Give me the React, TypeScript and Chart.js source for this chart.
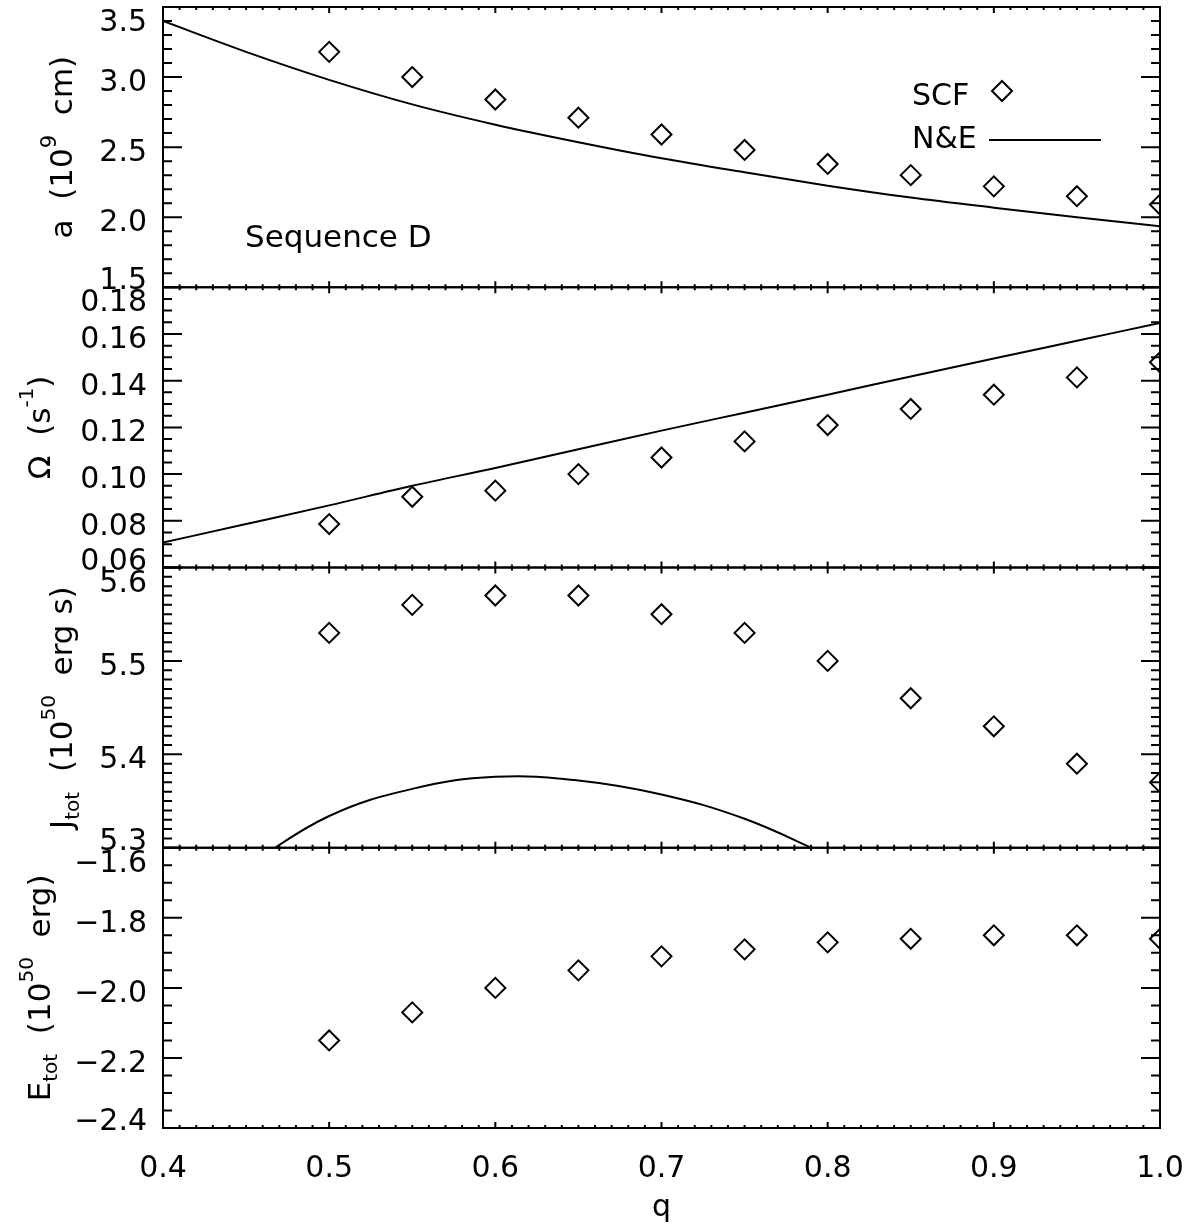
import React, { useEffect, useRef } from 'react';
import { Chart, registerables } from 'chart.js';

Chart.register(...registerables);

// ---------- data ----------
const qSCF = [0.5, 0.55, 0.6, 0.65, 0.7, 0.75, 0.8, 0.85, 0.9, 0.95, 1.0];
const aSCF = [3.18, 3.0, 2.84, 2.71, 2.59, 2.48, 2.38, 2.3, 2.22, 2.15, 2.09];
const omegaSCF = [0.0786, 0.0903, 0.0929, 0.1, 0.1071, 0.114, 0.121, 0.1279, 0.134, 0.1414, 0.1479];
const jSCF = [5.53, 5.56, 5.57, 5.57, 5.55, 5.53, 5.5, 5.46, 5.43, 5.39, 5.37];
const eSCF = [-2.15, -2.07, -2.0, -1.95, -1.91, -1.89, -1.87, -1.86, -1.85, -1.85, -1.86];

const qNE = [0.4, 0.45, 0.5, 0.55, 0.6, 0.65, 0.7, 0.75, 0.8, 0.85, 0.9, 0.95, 1.0];
const aNE = [3.4, 3.18, 2.98, 2.805, 2.66, 2.535, 2.42, 2.32, 2.225, 2.14, 2.068, 2.0, 1.935];
const omegaNE = [0.0707, 0.0786, 0.0866, 0.095, 0.1026, 0.1106, 0.1186, 0.1263, 0.134, 0.1418, 0.1495, 0.1571, 0.1647];

const qJNE = [0.45, 0.5, 0.55, 0.6, 0.65, 0.7, 0.75, 0.8];
const jNE = [5.28, 5.334, 5.363, 5.376, 5.372, 5.357, 5.331, 5.292];

const qTicks = [0.4, 0.5, 0.6, 0.7, 0.8, 0.9, 1.0];
const aTicks = [1.5, 2.0, 2.5, 3.0, 3.5];
const omegaTicks = [0.06, 0.08, 0.1, 0.12, 0.14, 0.16, 0.18];
const jTicks = [5.3, 5.4, 5.5, 5.6];
const eTicks = [-2.4, -2.2, -2.0, -1.8, -1.6];

const FONT = '"DejaVu Sans", "Liberation Sans", sans-serif';

type Seg = { t: string; s: number; dy?: number };

const PANELS = [
  {
    id: 'ya', min: 1.5, max: 3.5, ticks: aTicks, minor: 0.1, dec: 1, titleX: 72,
    title: [{ t: 'a  (10', s: 31 }, { t: '9', s: 21, dy: -16 }, { t: '  cm)', s: 31 }] as Seg[],
  },
  {
    id: 'yo', min: 0.06, max: 0.18, ticks: omegaTicks, minor: 0.005, dec: 2, titleX: 50,
    title: [{ t: 'Ω  (s', s: 31 }, { t: '-1', s: 20, dy: -17 }, { t: ')', s: 31 }] as Seg[],
  },
  {
    id: 'yj', min: 5.3, max: 5.6, ticks: jTicks, minor: 0.01, dec: 1, titleX: 72,
    title: [
      { t: 'J', s: 31 }, { t: 'tot', s: 20, dy: 7 }, { t: '  (10', s: 31 },
      { t: '50', s: 20, dy: -17 }, { t: '  erg s)', s: 31 },
    ] as Seg[],
  },
  {
    id: 'ye', min: -2.4, max: -1.6, ticks: eTicks, minor: 0.05, dec: 1, titleX: 50,
    title: [
      { t: 'E', s: 31 }, { t: 'tot', s: 20, dy: 7 }, { t: '  (10', s: 31 },
      { t: '50', s: 20, dy: -17 }, { t: '  erg)', s: 31 },
    ] as Seg[],
  },
];

function fmt(v: number, dec: number) {
  const s = Math.abs(v).toFixed(dec);
  return v < 0 ? '\u2212' + s : s;
}

function drawRotated(ctx: CanvasRenderingContext2D, segs: Seg[], baseX: number, cy: number) {
  ctx.save();
  ctx.translate(baseX, cy);
  ctx.rotate(-Math.PI / 2);
  ctx.textAlign = 'left';
  ctx.textBaseline = 'alphabetic';
  let total = 0;
  const widths = segs.map((g) => {
    ctx.font = `${g.s}px ${FONT}`;
    const w = ctx.measureText(g.t).width;
    total += w;
    return w;
  });
  let x = -total / 2;
  segs.forEach((g, i) => {
    ctx.font = `${g.s}px ${FONT}`;
    ctx.fillText(g.t, x, g.dy || 0);
    x += widths[i];
  });
  ctx.restore();
}

const panelPlugin = {
  id: 'panelPlugin',
  beforeDatasetDraw(chart: any, args: any) {
    const ys = chart.scales[args.meta.yAxisID];
    const ca = chart.chartArea;
    const ctx = chart.ctx;
    ctx.save();
    ctx.beginPath();
    ctx.rect(ca.left, ys.top, ca.right - ca.left, ys.bottom - ys.top);
    ctx.clip();
  },
  afterDatasetDraw(chart: any) {
    chart.ctx.restore();
  },
  afterDraw(chart: any) {
    const ctx: CanvasRenderingContext2D = chart.ctx;
    const ca = chart.chartArea;
    const xs = chart.scales.x;
    ctx.save();
    ctx.strokeStyle = '#000';
    ctx.fillStyle = '#000';
    ctx.lineWidth = 2;
    PANELS.forEach((p) => {
      const ys = chart.scales[p.id];
      const top = ys.top;
      const bottom = ys.bottom;
      ctx.strokeRect(ca.left, top, ca.right - ca.left, bottom - top);
      ctx.beginPath();
      const n = Math.round((p.max - p.min) / p.minor);
      for (let i = 0; i <= n; i++) {
        const v = p.min + i * p.minor;
        const y = ys.getPixelForValue(v);
        const major = p.ticks.some((t) => Math.abs(t - v) < p.minor / 10);
        const len = major ? 19 : 9;
        ctx.moveTo(ca.left, y);
        ctx.lineTo(ca.left + len, y);
        ctx.moveTo(ca.right, y);
        ctx.lineTo(ca.right - len, y);
      }
      const nx = Math.round((xs.max - xs.min) / 0.01);
      for (let i = 0; i <= nx; i++) {
        const x = xs.getPixelForValue(xs.min + i * 0.01);
        const len = i % 10 === 0 ? 6 : 3;
        ctx.moveTo(x, bottom);
        ctx.lineTo(x, bottom - len);
        ctx.moveTo(x, top);
        ctx.lineTo(x, top + len);
      }
      ctx.stroke();

      ctx.font = `30px ${FONT}`;
      ctx.textAlign = 'right';
      ctx.textBaseline = 'alphabetic';
      const tk = ys.ticks;
      tk.forEach((t: any, k: number) => {
        const y = ys.getPixelForValue(t.value);
        const off = k === 0 ? 2 : k === tk.length - 1 ? 24 : 14;
        ctx.fillText(fmt(t.value, p.dec), ca.left - 16, y + off);
      });

      drawRotated(ctx, p.title, p.titleX, (top + bottom) / 2);
    });

    // x tick labels
    ctx.font = `30px ${FONT}`;
    ctx.textAlign = 'center';
    ctx.textBaseline = 'alphabetic';
    xs.ticks.forEach((t: any) => {
      ctx.fillText(t.value.toFixed(1), xs.getPixelForValue(t.value), ca.bottom + 49);
    });
    ctx.fillText('q', (ca.left + ca.right) / 2, ca.bottom + 88);

    // annotation text
    ctx.textAlign = 'left';
    ctx.font = `31px ${FONT}`;
    ctx.fillText('Sequence D', ca.left + 82, ca.top + 240);

    // legend
    ctx.font = `30px ${FONT}`;
    ctx.fillText('SCF', ca.left + 749, ca.top + 98);
    ctx.fillText('N&E', ca.left + 749, ca.top + 141);
    const dx = ca.left + 839;
    const dy = ca.top + 84;
    ctx.beginPath();
    ctx.moveTo(dx - 10, dy);
    ctx.lineTo(dx, dy - 10);
    ctx.lineTo(dx + 10, dy);
    ctx.lineTo(dx, dy + 10);
    ctx.closePath();
    ctx.stroke();
    ctx.beginPath();
    ctx.moveTo(ca.left + 826, ca.top + 133);
    ctx.lineTo(ca.left + 938, ca.top + 133);
    ctx.stroke();
    ctx.restore();
  },
};

export default function App() {
  const ref = useRef<HTMLCanvasElement>(null);
  useEffect(() => {
    const canvas = ref.current;
    if (!canvas) return;
    const pts = (xs: number[], ys: number[]) => xs.map((x, i) => ({ x, y: ys[i] }));
    const diamonds = (data: any[], yAxisID: string) => ({
      data, yAxisID, xAxisID: 'x', showLine: false,
      pointStyle: 'rectRot', pointRadius: 10, borderWidth: 2,
      borderColor: '#000', backgroundColor: 'rgba(0,0,0,0)',
    });
    const line = (data: any[], yAxisID: string, smooth: boolean) => ({
      data, yAxisID, xAxisID: 'x', showLine: true, pointRadius: 0,
      borderColor: '#000', borderWidth: 2, fill: false,
      ...(smooth ? { tension: 0.4 } : { cubicInterpolationMode: 'monotone' }),
    });
    const yScale = (p: any, weight: number) => ({
      type: 'linear', position: 'left', stack: 'panels', stackWeight: 1, weight,
      min: p.min, max: p.max,
      afterBuildTicks: (s: any) => { s.ticks = p.ticks.map((v: number) => ({ value: v })); },
      afterFit: (s: any) => { s.width = 163; },
      ticks: { display: false }, grid: { display: false }, border: { display: false },
    });
    const chart = new Chart(canvas, {
      type: 'scatter',
      data: {
        datasets: [
          line(pts(qNE, aNE), 'ya', false),
          diamonds(pts(qSCF, aSCF), 'ya'),
          line(pts(qNE, omegaNE), 'yo', false),
          diamonds(pts(qSCF, omegaSCF), 'yo'),
          line(pts(qJNE, jNE), 'yj', true),
          diamonds(pts(qSCF, jSCF), 'yj'),
          diamonds(pts(qSCF, eSCF), 'ye'),
        ] as any,
      },
      options: {
        animation: false,
        responsive: false,
        devicePixelRatio: 1,
        events: [],
        layout: { autoPadding: false, padding: { top: 7, right: 36, left: 0, bottom: 0 } },
        plugins: { legend: { display: false }, tooltip: { enabled: false } },
        scales: {
          x: {
            type: 'linear', position: 'bottom', min: 0.4, max: 1.0,
            afterBuildTicks: (s: any) => { s.ticks = qTicks.map((v) => ({ value: v })); },
            afterFit: (s: any) => { s.height = 101; },
            ticks: { display: false }, grid: { display: false }, border: { display: false },
          },
          ya: yScale(PANELS[0], 4),
          yo: yScale(PANELS[1], 3),
          yj: yScale(PANELS[2], 2),
          ye: yScale(PANELS[3], 1),
        } as any,
      },
      plugins: [panelPlugin as any],
    });
    return () => chart.destroy();
  }, []);
  return (
    <div style={{ position: 'absolute', left: 0, top: 0, width: 1196, height: 1229, background: '#fff' }}>
      <canvas ref={ref} width={1196} height={1229} style={{ display: 'block' }} />
    </div>
  );
}
